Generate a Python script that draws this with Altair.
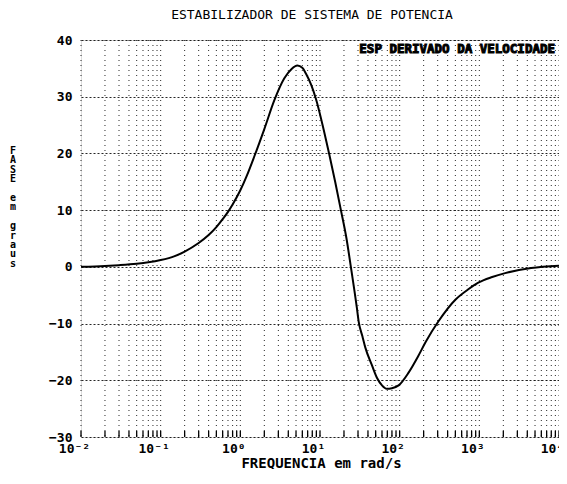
import altair as alt
import pandas as pd

# Curve (frequency in rad/s, phase in degrees)
freq = [0.01, 0.02, 0.03, 0.05, 0.07, 0.1, 0.15, 0.2, 0.3, 0.4, 0.5, 0.6, 0.7,
        0.8, 1.0, 1.2, 1.5, 2.0, 2.66, 3.55, 4.4, 5.2, 6.0, 6.7, 7.8, 8.9,
        11.2, 13.0, 15.5, 18.3, 21.5, 24.4, 29.0, 30.7, 34, 37, 44.7, 52, 60, 68.8,
        80, 97, 130, 170, 211, 307, 500, 720, 970, 1450, 2110, 4470, 10000]
phase = [0.0, 0.15, 0.3, 0.55, 0.8, 1.2, 1.9, 2.7, 4.2, 5.6, 7.0, 8.4, 9.7,
         11.0, 13.5, 16.0, 19.5, 24.3, 29.3, 33.2, 34.9, 35.5, 35.1, 34.0, 32.0, 29.6,
         24.0, 20.0, 15.0, 10.0, 5.0, 0.0, -7.2, -9.8, -12.2, -14.2, -17.3, -19.6, -20.9, -21.5,
         -21.4, -20.9, -18.6, -15.8, -13.3, -9.6, -5.8, -4.0, -2.8, -1.8, -1.1, -0.2, 0.2]

decades = [0.01, 0.1, 1, 10, 100, 1000, 10000]
mantissas = [1, 2, 3, 4, 5, 6, 7, 8, 9]
y_ticks = [-30, -20, -10, 0, 10, 20, 30, 40]

title_text = "ESTABILIZADOR DE SISTEMA DE POTENCIA"
x_title = "FREQUENCIA em rad/s"
y_title_words = ["FASE", "em", "graus"]
legend_text = "ESP DERIVADO DA VELOCIDADE"

W, H = 478, 397
FONT = "DejaVu Sans Mono"
LH = 9.4

curve = pd.DataFrame({"f": freq, "phase": phase})
minor = pd.DataFrame({"f": [m * d for d in decades[:-1] for m in mantissas] + [decades[-1]]})
one = pd.DataFrame({"k": [0]})

xscale = alt.Scale(type="log", domain=[0.01, 10000], nice=False)
yscale = alt.Scale(domain=[-30, 40], nice=False)

label_expr = ("datum.value < 0.05 ? '10⁻²' : datum.value < 0.5 ? '10⁻¹' : "
              "datum.value < 5 ? '10⁰' : datum.value < 50 ? '10¹' : "
              "datum.value < 500 ? '10²' : datum.value < 5000 ? '10³' : '10⁴'")

vgrid = alt.Chart(minor).mark_rule(color="black", strokeDash=[1, 4], strokeWidth=1, opacity=0.85).encode(
    x=alt.X("f:Q", scale=xscale),
    y=alt.value(0), y2=alt.value(H),
)

ticks = alt.Chart(minor).mark_rule(color="black", strokeWidth=1.3).encode(
    x=alt.X("f:Q", scale=xscale),
    y=alt.value(H), y2=alt.value(H - 6),
)

line = alt.Chart(curve).mark_line(color="black", strokeWidth=2, interpolate="monotone").encode(
    x=alt.X("f:Q", scale=xscale,
            axis=alt.Axis(values=decades, labelExpr=label_expr, grid=False, ticks=False, tickSize=0,
                          domain=False, labelFlush=False, labelOffset=-7, labelPadding=5,
                          labelFont=FONT, labelFontSize=13, labelFontWeight="bold", labelColor="black",
                          title=x_title, titleFont=FONT, titleFontSize=14, titleFontWeight="bold",
                          titleColor="black", titleY=30, titleX=240, titleBaseline="alphabetic")),
    y=alt.Y("phase:Q", scale=yscale,
            axis=alt.Axis(values=y_ticks, grid=True, gridColor="black", gridDash=[2, 2], gridOpacity=0.85,
                          ticks=False, tickSize=0, domain=False, labelFlush=False, labelPadding=9,
                          labelFont=FONT, labelFontSize=13, labelFontWeight="bold", labelColor="black",
                          title="")),
)


def stacked(word, top):
    return alt.Chart(one).mark_text(font=FONT, fontSize=10, fontWeight="bold", align="center",
                                    baseline="top", color="black", lineBreak="\n", lineHeight=LH).encode(
        x=alt.value(-68), y=alt.value(top), text=alt.value("\n".join(word))
    )


ytitle = [stacked(y_title_words[0], 106),
          stacked(y_title_words[1], 106 + 5 * LH),
          stacked(y_title_words[2], 106 + 8 * LH)]

legend = alt.Chart(one).mark_text(font=FONT, fontSize=12.5, fontWeight="bold", align="right",
                                  baseline="top", color="black", stroke="black", strokeWidth=1).encode(
    x=alt.value(W - 4), y=alt.value(3), text=alt.value(legend_text)
)

chart = alt.layer(vgrid, ticks, line, *ytitle, legend).properties(
    width=W, height=H,
    title=alt.TitleParams(title_text, font=FONT, fontSize=13, fontWeight="normal", color="black",
                          anchor="middle", offset=12, dx=-8),
    autosize=alt.AutoSizeParams(type="none"),
    padding={"left": 73, "top": 32, "right": 0, "bottom": 32},
).configure_view(stroke="black", strokeWidth=1.6).configure(background="white")

chart.save("out.html", embed_options={"renderer": "svg", "actions": False})
